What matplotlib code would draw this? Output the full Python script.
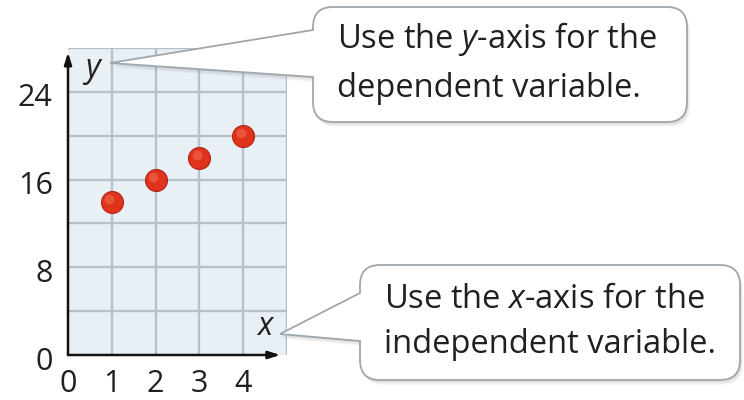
import numpy as np
import matplotlib
matplotlib.use("Agg")
import matplotlib.pyplot as plt
from matplotlib.path import Path
from matplotlib.patches import PathPatch
from matplotlib.transforms import ScaledTranslation

plt.rcParams['font.family'] = ['Open Sans', 'DejaVu Sans']
plt.rcParams['mathtext.fontset'] = 'custom'
plt.rcParams['mathtext.rm'] = 'Open Sans'
plt.rcParams['mathtext.it'] = 'Open Sans:italic'

# data
x_vals = [1, 2, 3, 4]
y_vals = [14, 16, 18, 20]
x_ticks = [0, 1, 2, 3, 4]
y_ticks = [0, 8, 16, 24]
note_y = ["Use the $\\mathit{y}$-axis for the", "dependent variable."]
note_x = ["Use the $\\mathit{x}$-axis for the", "independent variable."]

grid_col = '#b5c1ca'
text_col = '#231f20'

fig = plt.figure(figsize=(7.44, 4.0), dpi=100)
ax = fig.add_axes([68/744, 45/400, 219/744, 307/400])
ax.set_xlim(0, 5)
ax.set_ylim(0, 28)
ax.set_facecolor('#e9f0f5')

# grid lines every 1 on x and every 4 on y
for gx in range(1, 6):
    ax.axvline(gx, color=grid_col, lw=1.7, zorder=0.5)
for gy in range(4, 29, 4):
    ax.axhline(gy, color=grid_col, lw=1.7, zorder=0.5)
for s in ax.spines.values():
    s.set_visible(False)

ax.set_xticks(x_ticks)
ax.set_yticks(y_ticks)
ax.tick_params(which='both', length=0)
ax.tick_params(axis='x', pad=10, labelsize=22, labelcolor=text_col)
ax.tick_params(axis='y', pad=11, labelsize=22, labelcolor=text_col)

# axes arrows
arr = dict(arrowstyle='-|>,head_length=0.7,head_width=0.22', color='#111111', lw=1.8,
           shrinkA=0, shrinkB=0)
ax.annotate('', xy=(0, 27.6), xytext=(0, 0), arrowprops=arr, annotation_clip=False)
ax.annotate('', xy=(4.85, 0), xytext=(0, 0), arrowprops=arr, annotation_clip=False)
ax.text(0.55, 26.1, 'y', style='italic', fontsize=23, color=text_col, ha='center', va='center')
ax.text(4.5, 2.6, 'x', style='italic', fontsize=23, color=text_col, ha='center', va='center')

# points
ax.scatter(x_vals, y_vals, s=250, color='#df331b', edgecolor='#b3241a', lw=0.8, zorder=5)
hl = ax.transData + ScaledTranslation(-2.5/100, 2.5/100, fig.dpi_scale_trans)
ax.scatter(x_vals, y_vals, s=50, color='#f0634a', lw=0, alpha=0.7, zorder=6, transform=hl)

off = ScaledTranslation(0, -3/100, fig.dpi_scale_trans)
for lab in ax.get_yticklabels():
    lab.set_transform(lab.get_transform() + off)

# callouts (overlay in pixel coords)
ov = fig.add_axes([0, 0, 1, 1], zorder=10)
ov.set_xlim(0, 744)
ov.set_ylim(400, 0)
ov.axis('off')
ov.patch.set_alpha(0)


def callout(x0, y0, x1, y1, r, ptop, tip, pbot):
    verts = [(x0, ptop), tip, (x0, pbot), (x0, y1 - r), (x0, y1), (x0 + r, y1),
             (x1 - r, y1), (x1, y1), (x1, y1 - r), (x1, y0 + r), (x1, y0), (x1 - r, y0),
             (x0 + r, y0), (x0, y0), (x0, y0 + r), (x0, ptop)]
    codes = [Path.MOVETO, Path.LINETO, Path.LINETO, Path.LINETO, Path.CURVE3, Path.CURVE3,
             Path.LINETO, Path.CURVE3, Path.CURVE3, Path.LINETO, Path.CURVE3, Path.CURVE3,
             Path.LINETO, Path.CURVE3, Path.CURVE3, Path.CLOSEPOLY]
    return Path(verts, codes)


def draw_callout(path):
    for i, a in enumerate([0.05, 0.05, 0.06, 0.07]):
        d = 5 - i
        sh = Path(path.vertices + np.array([d * 0.6, d]), path.codes)
        ov.add_patch(PathPatch(sh, facecolor='#707070', edgecolor='none', alpha=a))
    ov.add_patch(PathPatch(path, facecolor='white', edgecolor='#9ea7ae', lw=1.3))


draw_callout(callout(313, 7, 687, 122, 20, 30, (110, 63), 77))
draw_callout(callout(360, 265, 740, 380, 20, 293, (280, 334), 341))

fs = 23.5
ov.text(337, 48, note_y[0], fontsize=fs, color=text_col, va='baseline')
ov.text(337, 97, note_y[1], fontsize=fs, color=text_col, va='baseline')
ov.text(384, 308, note_x[0], fontsize=fs, color=text_col, va='baseline')
ov.text(384, 353, note_x[1], fontsize=fs, color=text_col, va='baseline')

fig.savefig('out.png', dpi=100)
